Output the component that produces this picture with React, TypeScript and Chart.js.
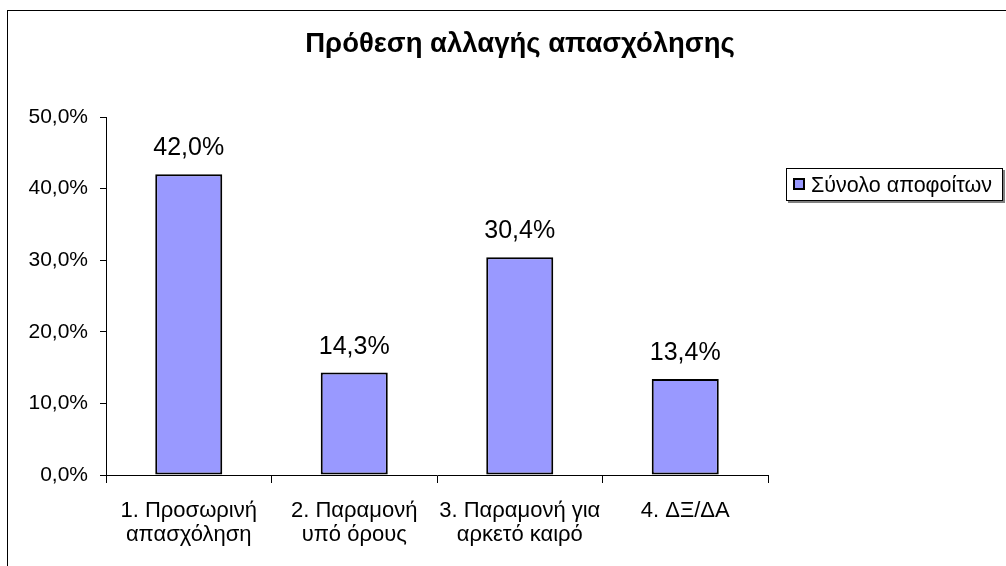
import React, { useEffect, useRef } from "react";
import { Chart, registerables } from "chart.js";

Chart.register(...registerables);

const titleText = "Πρόθεση αλλαγής απασχόλησης";
const seriesLabel = "Σύνολο αποφοίτων";
const categories: string[][] = [
  ["1. Προσωρινή", "απασχόληση"],
  ["2. Παραμονή", "υπό όρους"],
  ["3. Παραμονή για", "αρκετό καιρό"],
  ["4. ΔΞ/ΔΑ"],
];
const values: number[] = [42.0, 14.3, 30.4, 13.4];
const yMin = 0;
const yMax = 50;
const yStep = 10;

const FONT = '"Liberation Sans", Arial, sans-serif';
const BAR_COLOR = "#9999FF";

const fmt = (v: number) => v.toFixed(1).replace(".", ",") + "%";

const decorPlugin = {
  id: "decor",
  afterDraw(chart: any) {
    const ctx: CanvasRenderingContext2D = chart.ctx;
    ctx.save();
    // outer chart border
    ctx.strokeStyle = "#000";
    ctx.lineWidth = 1;
    ctx.strokeRect(7.5, 10.5, 1200, 1000);

    // title
    ctx.fillStyle = "#000";
    ctx.font = `bold 27.5px ${FONT}`;
    ctx.textAlign = "center";
    ctx.textBaseline = "alphabetic";
    ctx.fillText(titleText, 520, 52);

    // data labels
    ctx.font = `25px ${FONT}`;
    const meta = chart.getDatasetMeta(0);
    meta.data.forEach((bar: any, i: number) => {
      ctx.fillText(fmt(values[i]), bar.x, bar.y - 19);
    });

    // legend
    const lx = 786, ly = 168, lw = 216, lh = 32;
    ctx.fillStyle = "#808080";
    ctx.fillRect(lx + 2, ly + 2, lw + 1, lh + 1);
    ctx.fillStyle = "#fff";
    ctx.fillRect(lx, ly, lw, lh);
    ctx.strokeStyle = "#000";
    ctx.strokeRect(lx + 0.5, ly + 0.5, lw, lh);
    ctx.fillStyle = BAR_COLOR;
    ctx.fillRect(793, 178, 12, 12);
    ctx.lineWidth = 2;
    ctx.strokeRect(794, 179, 10, 10);
    ctx.fillStyle = "#000";
    ctx.font = `21.5px ${FONT}`;
    ctx.textAlign = "left";
    ctx.textBaseline = "alphabetic";
    ctx.fillText(chart.data.datasets[0].label, 811, 192);
    ctx.restore();
  },
};

export default function App() {
  const ref = useRef<HTMLCanvasElement | null>(null);
  useEffect(() => {
    if (!ref.current) return;
    const chart = new Chart(ref.current, {
      type: "bar",
      data: {
        labels: categories as any,
        datasets: [
          {
            label: seriesLabel,
            data: values,
            backgroundColor: BAR_COLOR,
            borderColor: "#000",
            borderWidth: 2,
            borderSkipped: false,
            barPercentage: 0.405,
            categoryPercentage: 1,
          },
        ],
      },
      options: {
        responsive: false,
        animation: false,
        devicePixelRatio: 1,
        layout: { padding: { top: 117, right: 238, bottom: 0, left: 0 } },
        plugins: {
          legend: { display: false },
          title: { display: false },
          tooltip: { enabled: false },
        },
        scales: {
          x: {
            offset: true,
            afterFit: (s: any) => {
              s.height = 91;
            },
            grid: {
              offset: true,
              drawOnChartArea: false,
              drawTicks: true,
              tickLength: 8,
              color: "#000",
              tickColor: "#000",
            },
            border: { display: true, color: "#000", width: 1 },
            ticks: {
              color: "#000",
              padding: 16,
              maxRotation: 0,
              autoSkip: false,
              font: { family: FONT, size: 22, lineHeight: 1.08 },
            },
          },
          y: {
            min: yMin,
            max: yMax,
            afterFit: (s: any) => {
              s.width = 106;
            },
            grid: {
              drawOnChartArea: false,
              drawTicks: true,
              tickLength: 6,
              color: "#000",
              tickColor: "#000",
            },
            border: { display: true, color: "#000", width: 1 },
            ticks: {
              stepSize: yStep,
              color: "#000",
              padding: 12,
              font: { family: FONT, size: 21 },
              callback: (v: any) => fmt(Number(v)),
            },
          },
        },
      },
      plugins: [decorPlugin],
    });
    return () => chart.destroy();
  }, []);
  return (
    <div style={{ position: "fixed", left: 0, top: 0, width: 1006, height: 566, background: "#fff" }}>
      <canvas ref={ref} width={1006} height={566} style={{ display: "block" }} />
    </div>
  );
}
